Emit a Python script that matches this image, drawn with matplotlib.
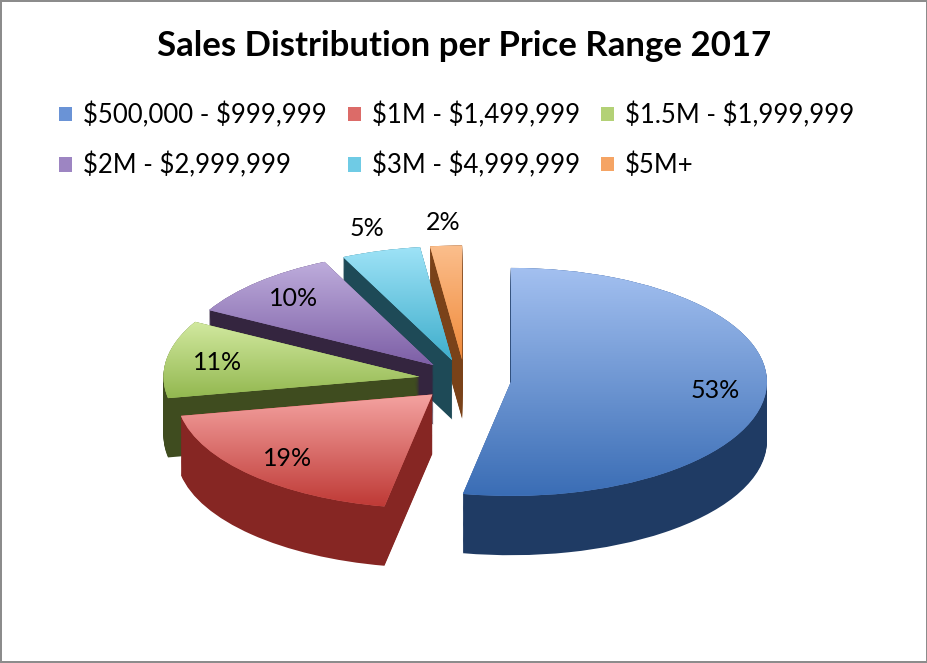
import numpy as np
import matplotlib
matplotlib.use('Agg')
import matplotlib.pyplot as plt
from matplotlib.colors import LinearSegmentedColormap

plt.rcParams['font.family'] = ['Lato', 'DejaVu Sans']

# data
ranges = ['$500,000 - $999,999', '$1M - $1,499,999', '$1.5M - $1,999,999',
          '$2M - $2,999,999', '$3M - $4,999,999', '$5M+']
shares = [53, 19, 11, 10, 5, 2]

# colours: light top of face, dark bottom of face, side wall
top_cols = ['#A3C0F0', '#F4A3A1', '#D2E9A0', '#BEADDC', '#9FE3F7', '#FBBE8C']
bot_cols = ['#3A6DB5', '#BF3A36', '#93B850', '#7D5FA6', '#3FAECC', '#F08A3A']
mid_cols = ['#6A93D6', '#DC6B68', '#B3D176', '#9D85C2', '#6FCBE5', '#F5A464']
side_cols = ['#1F3B64', '#862623', '#3F4C1F', '#34253F', '#1E4A57', '#7A4219']
# painter's order, back to front
draw_rank = [4, 5, 3, 2, 1, 0]

explode = [0.18] * len(shares)
depth = 0.52
n_layers = 64

fig = plt.figure(figsize=(9.28, 6.63), dpi=100)
fig.patch.set_facecolor('white')
fig.patch.set_edgecolor('#8c8c8c')
fig.patch.set_linewidth(1.5)
ax = fig.add_axes([0, 0, 1, 1])

# side walls: stacked copies of the pie, lowest first
for k in range(n_layers):
    d = depth * (1 - k / (n_layers - 1))
    ws, _ = ax.pie(shares, explode=explode, startangle=90, counterclock=False,
                   colors=side_cols, center=(0, -d),
                   wedgeprops=dict(linewidth=0, antialiased=True))
    for i, w in enumerate(ws):
        w.set_zorder(draw_rank[i] * 100 + k * 0.5)

# top faces
tops, _ = ax.pie(shares, explode=explode, startangle=90, counterclock=False,
                 colors=mid_cols, wedgeprops=dict(linewidth=0))
grad = np.linspace(1, 0, 256).reshape(-1, 1)
for i, w in enumerate(tops):
    w.set_zorder(draw_rank[i] * 100 + 60)
    bb = w.get_path().get_extents()
    cm = LinearSegmentedColormap.from_list('g%d' % i, [bot_cols[i], top_cols[i]])
    im = ax.imshow(grad, extent=(bb.x0, bb.x1, bb.y0, bb.y1), cmap=cm,
                   aspect='auto', zorder=draw_rank[i] * 100 + 61)
    im.set_clip_path(w)

    th = np.deg2rad((w.theta1 + w.theta2) / 2)
    r = 1.2 if shares[i] < 6 else 0.8
    cx, cy = w.center
    ax.text(cx + r * np.cos(th), cy + r * np.sin(th), '%d%%' % shares[i],
            ha='center', va='center', fontsize=18, zorder=1000)

ax.set_aspect('auto')
ax.set_xlim(-465 / 256, (928 - 465) / 256)
ax.set_ylim(-283 / 114, 380 / 114)
ax.axis('off')

fig.text(0.5, 1 - 46 / 663, 'Sales Distribution per Price Range 2017',
         ha='center', va='center', fontsize=25, fontweight='bold')

order = [0, 3, 1, 4, 2, 5]
fig.legend([tops[j] for j in order],
           [ranges[j].replace('$', r'\$') for j in order],
           ncol=3, loc='upper left', bbox_to_anchor=(59 / 928, 1 - 102 / 663),
           frameon=False, fontsize=18.5, handlelength=0.5, handleheight=0.5,
           handletextpad=0.45, columnspacing=0.8, labelspacing=0.95,
           borderpad=0, borderaxespad=0)

fig.savefig('out.png', dpi=100)
